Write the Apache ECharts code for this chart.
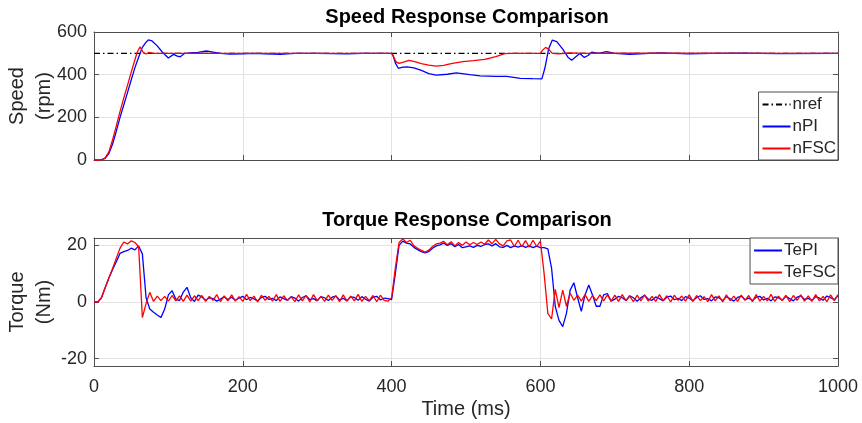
<!DOCTYPE html>
<html>
<head>
<meta charset="utf-8">
<script src="https://cdn.jsdelivr.net/npm/echarts@6/dist/echarts.min.js"></script>
<style>html,body{margin:0;background:#fff}#chart{width:862px;height:423px}</style>
</head>
<body>
<div id="chart"></div>
<script>
'use strict';

/* ---------- data ---------- */
// speed, [time ms, rpm]
const NREF = [[0,500],[1000,500]];
const N_PI = [
  [0,0],[5,0],[10,2],[15,8],[20,30],[25,75],[30,135],[35,200],[40,258],[45,316],[50,375],
  [55,433],[60,482],[65,528],[70,552],[73,563],[78,558],[85,535],[92,505],[100,478],
  [107,495],[112,487],[116,484],[122,500],[130,502],[140,504],[151,511],[160,506],[170,500],
  [183,496],[200,498],[215,500],[230,498],[250,495],[270,500],[300,500],[340,497],[360,500],[400,500],
  [402,490],[405,455],[409,430],[415,435],[421,437],[430,432],[440,420],[450,405],[460,398],
  [475,402],[487,408],[505,400],[519,394],[540,392],[555,392],[573,383],[590,381],[602,380],
  [606,430],[611,520],[616,562],[622,555],[630,520],[637,482],[642,468],[648,485],[653,499],
  [659,481],[664,490],[669,505],[678,500],[689,508],[700,500],[720,495],[740,499],[760,502],
  [780,500],[800,498],[830,500],[870,501],[920,499],[1000,500]
];
const N_FSC = [
  [0,0],[4,-3],[8,-2],[12,3],[15,10],[20,38],[25,95],[30,160],[35,228],[40,290],[45,350],
  [50,412],[55,470],[58,505],[62,530],[66,505],[70,497],[74,505],[80,500],[100,500],[400,500],
  [402,488],[406,460],[410,453],[415,458],[423,467],[430,462],[440,452],[450,445],[460,440],
  [470,444],[480,452],[496,461],[510,466],[525,472],[532,477],[540,485],[546,492],[552,499],
  [560,500],[600,500],[603,515],[607,528],[611,520],[616,500],[625,498],[640,502],[660,500],
  [700,501],[1000,500]
];

// torque, one sample every TE_STEP ms from 0 to 1000
const TE_STEP = 5;
const TE_PI = [
  0,0,1.5,5,8.5,11.5,14.2,17.2,17.8,18.2,19,18.4,19.8,17,1.5,-2.5,-3.6,-4.6,-5.5,-2.5,
  2.5,4,1,0.5,3.5,5.2,1.5,
  0.2,2.4,1.8,0.6,1.5,1.2,0.3,1.0,1.8,0.9,1.7,0.6,1.4,2.0,0.8,1.6,1.1,0.4,1.6,2.0,
  0.9,1.3,0.5,1.8,1.2,0.6,1.9,1.4,0.3,1.6,2.2,0.8,1.2,0.4,1.9,1.5,0.5,1.7,2.1,0.7,
  1.3,0.4,1.8,1.6,0.6,1.9,1.0,0.3,1.7,2.0,0.7,1.4,1.2,
  0.8,10,20,21.5,20.8,20.5,19.3,18.5,17.8,17.3,17.8,19,19.8,20.2,20.8,20,20.6,19.5,20.3,19.2,
  19.5,19.8,19.3,20,19.6,20.3,20.5,19.8,20.6,19.5,19.3,20,19.2,19.8,19.4,19.9,19.3,19.8,19.2,19.7,19.2,
  19.2,18.8,12,-1.6,-6.5,-8.7,-4,4.2,6.8,1.5,-3.3,2.5,6,2.5,-1.5,-1.5,2.5,3,0.3,
  1.0,2.0,1.5,0.5,2.2,1.5,0.3,1.5,2.4,1.0,0.6,1.8,1.2,0.4,1.7,2.1,0.8,1.3,0.5,1.9,
  1.4,0.4,1.6,2.2,0.9,1.2,0.4,1.8,1.5,0.5,1.9,1.1,0.3,1.6,2.1,0.8,1.4,0.5,1.7,2.0,
  0.7,1.3,0.4,1.8,1.5,0.6,2.0,1.2,0.4,1.7,2.2,0.9,1.3,0.5,1.9,1.4,0.6,2.1,1.5,0.8,2.3
];
const TE_FSC = [
  0,0,1.5,5,8.5,11.8,15.5,19,21.2,20.5,21.6,21,19.5,-5.5,-0.5,3.4,0.2,2.1,0.5,2,
  0.3,2.3,0.4,2.2,0.2,2.4,0.3,2.2,
  0.5,2.3,0.2,2.0,0.6,2.6,0.1,2.2,0.4,2.5,0.3,1.9,0.2,2.7,0.5,2.1,0.0,2.4,0.6,2.0,
  0.3,2.6,0.2,2.2,0.5,1.8,0.1,2.5,0.4,2.3,0.0,2.6,0.5,2.0,0.2,2.4,0.6,2.2,0.1,2.5,
  0.3,2.1,0.4,2.7,0.2,2.0,0.5,2.3,0.1,2.4,0.6,0.3,
  1.5,12,21,22.3,21,21.8,19.8,19,18.2,17.6,18.3,19.6,20.5,20.8,21.4,20.2,21.3,19.8,21,20,
  21.2,20.2,21,20.3,21.2,20.4,21.9,20.6,22.1,20.5,19.8,21.6,21.9,19.6,21.8,19.5,21.7,19.4,21.8,19.6,21.5,
  10,-4,-6,4.5,-2,4.2,-1.5,3.1,0.6,2.4,0.3,2.6,0.2,2.3,0.5,2.5,0.4,2.5,0.3,
  2.4,0.2,2.6,0.5,2.1,0.1,2.4,0.4,2.5,0.3,2.0,0.2,2.6,0.5,2.2,0.0,2.4,0.6,2.1,0.3,
  2.5,0.2,2.3,0.5,1.9,0.1,2.6,0.4,2.2,0.0,2.5,0.5,2.1,0.2,2.4,0.6,2.3,0.1,2.6,0.3,
  2.0,0.4,2.7,0.2,2.1,0.5,2.4,0.1,2.3,0.6,2.5,0.3,2.2,0.2,2.6,0.4,2.0,0.1,2.5,0.5,2.6
];

const TORQUE_TICKS = [-20,0,20];

/* ---------- look ---------- */
const FONT = '"Liberation Sans", Arial, Helvetica, sans-serif';
const INK = '#262626', FRAME = '#505050', GRIDLINE = '#e2e2e2';
const BLUE = '#0000ff', RED = '#ff0000';

const withT = arr => arr.map((v,i)=>[i*TE_STEP, v]);

function xAxis(grid, top, labels){
  return {
    type:'value', gridIndex:grid, position: top ? 'top' : 'bottom',
    min:0, max:1000, interval:200,
    axisLine:{show:true, onZero:false, lineStyle:{color:FRAME, width:1}},
    axisTick:{show:true, inside:true, length:5, lineStyle:{color:FRAME}},
    axisLabel:{show:labels, margin:12, color:INK, fontFamily:FONT, fontSize:18, formatter:v=>String(v)},
    splitLine:{show:!top, lineStyle:{color:GRIDLINE}},
  };
}
function yAxis(grid, right, extra){
  return Object.assign({
    type:'value', gridIndex:grid, position: right ? 'right' : 'left',
    axisLine:{show:true, onZero:false, lineStyle:{color:FRAME, width:1}},
    axisTick:{show:true, inside:true, length:5, lineStyle:{color:FRAME}},
    axisLabel:{show:!right, margin:7, color:INK, fontFamily:FONT, fontSize:18},
    splitLine:{show:!right, lineStyle:{color:GRIDLINE}},
  }, extra);
}
const yName = name => ({
  name, nameLocation:'middle', nameGap:36, nameRotate:90, nameMoveOverlap:false,
  nameTextStyle:{color:INK, fontFamily:FONT, fontSize:20, lineHeight:27},
});
const speedScale = {min:0, max:600, interval:200};
const torqueScale = {min:-22.6, max:22.6, splitNumber:2};
const torqueLabel = v => TORQUE_TICKS.includes(Math.round(v*10)/10) ? String(v) : '';

function line(name, data, color, xi, yi, type){
  return {
    name, type:'line', data, xAxisIndex:xi, yAxisIndex:yi,
    symbol:'none', silent:true, animation:false,
    lineStyle:{color, width:1.3, type: type || 'solid'}, itemStyle:{color},
  };
}
function legend(names, top){
  return {
    data:names, orient:'vertical', right:24, top,
    itemWidth:28, itemHeight:12, itemGap:5,
    padding:[4,2,3,3], backgroundColor:'#fff',
    borderColor:FRAME, borderWidth:1, borderRadius:0,
    itemStyle:{opacity:0},
    textStyle:{color:INK, fontFamily:FONT, fontSize:17, padding:[0,0,0,-3]},
    selectedMode:false,
  };
}
const titleStyle = {color:'#000', fontFamily:FONT, fontSize:20, fontWeight:'bold'};

const chart = echarts.init(document.getElementById('chart'), null, {renderer:'canvas'});
const yTorque = yAxis(1, false, Object.assign({}, torqueScale, yName('Torque\n(Nm)')));
yTorque.axisLabel.formatter = torqueLabel;
const xBottom = xAxis(1, false, true);
Object.assign(xBottom, {name:'Time (ms)', nameLocation:'middle', nameGap:33,
  nameTextStyle:{color:INK, fontFamily:FONT, fontSize:20}});

chart.setOption({
  backgroundColor:'#fff',
  animation:false,
  title:[
    {text:'Speed Response Comparison', left:467, top:7, textAlign:'center', padding:0, textStyle:titleStyle},
    {text:'Torque Response Comparison', left:467, top:210, textAlign:'center', padding:0, textStyle:titleStyle},
  ],
  grid:[
    {left:94, right:24, top:32, height:128, containLabel:false, outerBoundsMode:'none'},
    {left:94, right:24, top:238, height:128, containLabel:false, outerBoundsMode:'none'},
  ],
  xAxis:[ xAxis(0,false,false), xAxis(0,true,false), xBottom, xAxis(1,true,false) ],
  yAxis:[
    yAxis(0, false, Object.assign({}, speedScale, yName('Speed\n(rpm)'))),
    yAxis(0, true, speedScale),
    yTorque,
    yAxis(1, true, torqueScale),
  ],
  legend:[ legend(['nref','nPI','nFSC'], 92), legend(['TePI','TeFSC'], 238) ],
  series:[
    line('nref', NREF, '#000', 0, 0, [6,3,1.5,3]),
    line('nPI', N_PI, BLUE, 0, 0),
    line('nFSC', N_FSC, RED, 0, 0),
    line('TePI', withT(TE_PI), BLUE, 2, 2),
    line('TeFSC', withT(TE_FSC), RED, 2, 2),
  ],
});
</script>
</body>
</html>
